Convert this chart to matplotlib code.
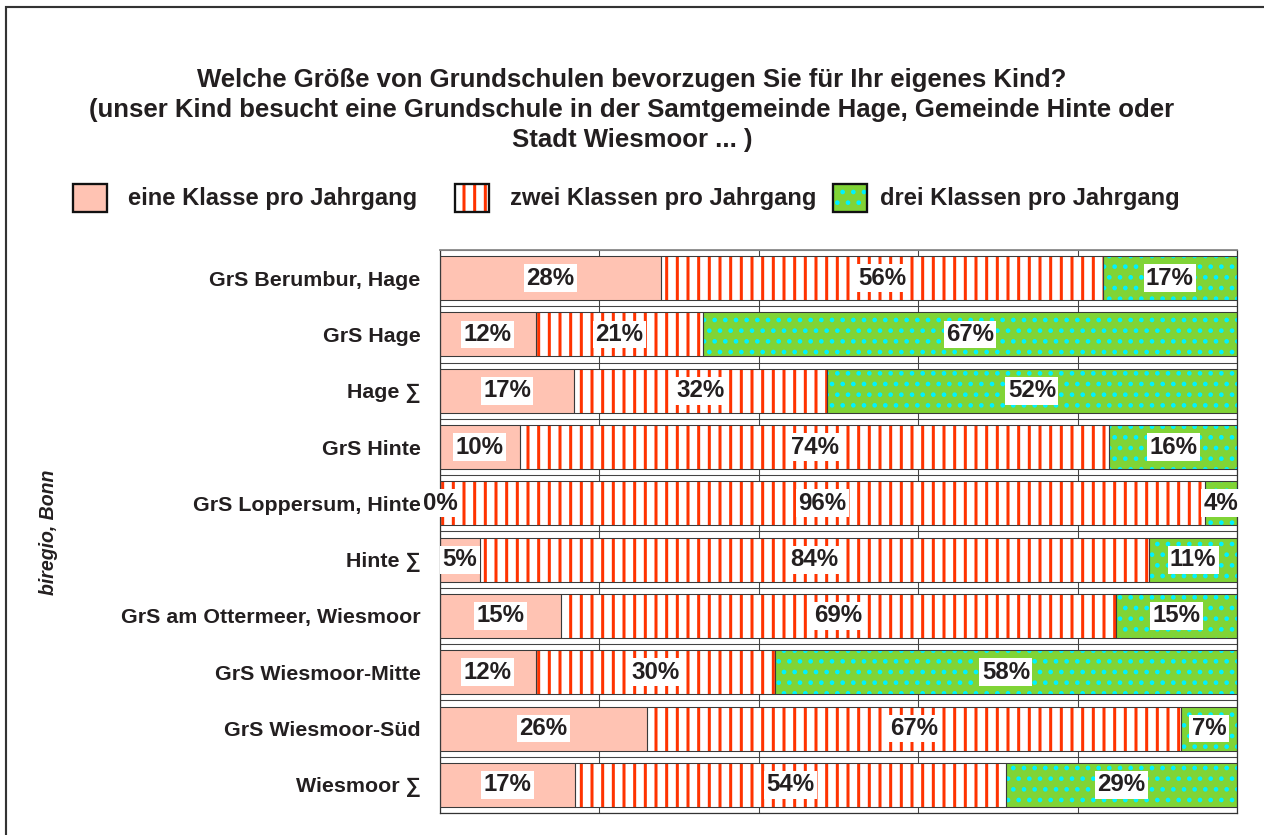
import numpy as np
import matplotlib
matplotlib.use('Agg')
import matplotlib.pyplot as plt
from matplotlib.patches import Rectangle

# data
schools = ['GrS Berumbur, Hage', 'GrS Hage', 'Hage ∑', 'GrS Hinte',
           'GrS Loppersum, Hinte', 'Hinte ∑', 'GrS am Ottermeer, Wiesmoor',
           'GrS Wiesmoor-Mitte', 'GrS Wiesmoor-Süd', 'Wiesmoor ∑']
eine = [28, 12, 17, 10, 0, 5, 15, 12, 26, 17]
zwei = [56, 21, 32, 74, 96, 84, 69, 30, 67, 54]
drei = [17, 67, 52, 16, 4, 11, 15, 58, 7, 29]
series_names = ['eine Klasse pro Jahrgang', 'zwei Klassen pro Jahrgang',
                'drei Klassen pro Jahrgang']
title = ('Welche Größe von Grundschulen bevorzugen Sie für Ihr eigenes Kind?\n'
         '(unser Kind besucht eine Grundschule in der Samtgemeinde Hage, Gemeinde Hinte oder\n'
         'Stadt Wiesmoor ... )')

PINK = '#ffc3b3'
RED = '#ff3300'
GREEN = '#80d436'
CYAN = '#00f2ff'
EDGE = '#3a3a3a'
TXT = '#231f20'

plt.rcParams['font.family'] = ['Liberation Sans', 'DejaVu Sans']
plt.rcParams['font.weight'] = 'bold'

DPI = 128
fig = plt.figure(figsize=(1264 / DPI, 835 / DPI), dpi=DPI)
W, H = 1264, 835
ax = fig.add_axes([440 / W, 1 - 813 / H, 797 / W, 563 / H])

vals = np.array([eine, zwei, drei], dtype=float)
tot = vals.sum(axis=0)
frac = vals / tot * 100
y = np.arange(len(schools))
bh = 0.78

styles = [
    dict(color=PINK, hatch=None, hcol=PINK, hlw=1.0),
    dict(color='white', hatch='||', hcol=RED, hlw=1.7),
    dict(color=GREEN, hatch='..', hcol=CYAN, hlw=1.4),
]

left = np.zeros(len(schools))
for k in range(3):
    st = styles[k]
    with plt.rc_context({'hatch.linewidth': st['hlw']}):
        bars = ax.barh(y, frac[k], left=left, height=bh, color=st['color'],
                       hatch=st['hatch'], edgecolor=st['hcol'], linewidth=0, zorder=2)
    for b in bars:
        if hasattr(b, 'set_hatch_linewidth'):
            b.set_hatch_linewidth(st['hlw'])
    ax.barh(y, frac[k], left=left, height=bh, fill=False, edgecolor=EDGE,
            linewidth=0.6, zorder=3)
    for i in range(len(schools)):
        ax.text(left[i] + frac[k][i] / 2, y[i], f'{int(vals[k][i])}%',
                ha='center', va='center', fontsize=13.5, color=TXT,
                fontweight='bold', zorder=5, clip_on=False,
                bbox=dict(boxstyle='square,pad=0.1', fc='white', ec='none'))
    left = left + frac[k]

ax.set_xlim(0, 100)
ax.set_ylim(len(schools) - 0.5, -0.5)
ax.set_xticks([0, 20, 40, 60, 80, 100])
ax.set_xticklabels([])
ax.set_yticks(y)
ax.set_yticklabels(schools, fontsize=12.0, color=TXT)
ax.set_yticks(np.arange(-0.5, len(schools), 1), minor=True)
ax.tick_params(axis='both', which='both', length=0)
ax.tick_params(axis='y', pad=11)
ax.xaxis.grid(True, color='#444444', lw=0.6)
ax.yaxis.grid(True, which='minor', color='#444444', lw=0.6)
ax.set_axisbelow(True)
for s in ax.spines.values():
    s.set_color('#333333')
    s.set_linewidth(0.7)
ax.spines['top'].set_color('#888888')
ax.spines['top'].set_linewidth(1.0)

# title
fig.text(632 / W, 1 - 110 / H, title, ha='center', va='center',
         fontsize=14.5, color=TXT, linespacing=1.3)

# legend drawn by hand
leg_x = [73, 455, 833]
txt_x = [128, 510, 880]
for k in range(3):
    st = styles[k]
    r = Rectangle((leg_x[k] / W, 1 - 212 / H), 34 / W, 28 / H,
                  transform=fig.transFigure, facecolor=st['color'],
                  hatch=st['hatch'], edgecolor=st['hcol'], linewidth=0)
    if hasattr(r, 'set_hatch_linewidth'):
        r.set_hatch_linewidth(st['hlw'])
    fig.add_artist(r)
    fig.add_artist(Rectangle((leg_x[k] / W, 1 - 212 / H), 34 / W, 28 / H,
                             transform=fig.transFigure, fill=False,
                             edgecolor='#111111', linewidth=1.3))
    fig.text(txt_x[k] / W, 1 - 199 / H, series_names[k], ha='left',
             va='center', fontsize=13.4, color=TXT)

fig.text(48 / W, 1 - 532 / H, 'biregio, Bonn', rotation=90, ha='center',
         va='center', fontsize=11, style='italic', color=TXT)

# outer frame
fig.add_artist(Rectangle((6 / W, -0.05), 1.2, 1.05 - 7 / H,
                         transform=fig.transFigure, fill=False,
                         edgecolor='#333333', linewidth=1.2))

fig.savefig('out.png', dpi=DPI)
